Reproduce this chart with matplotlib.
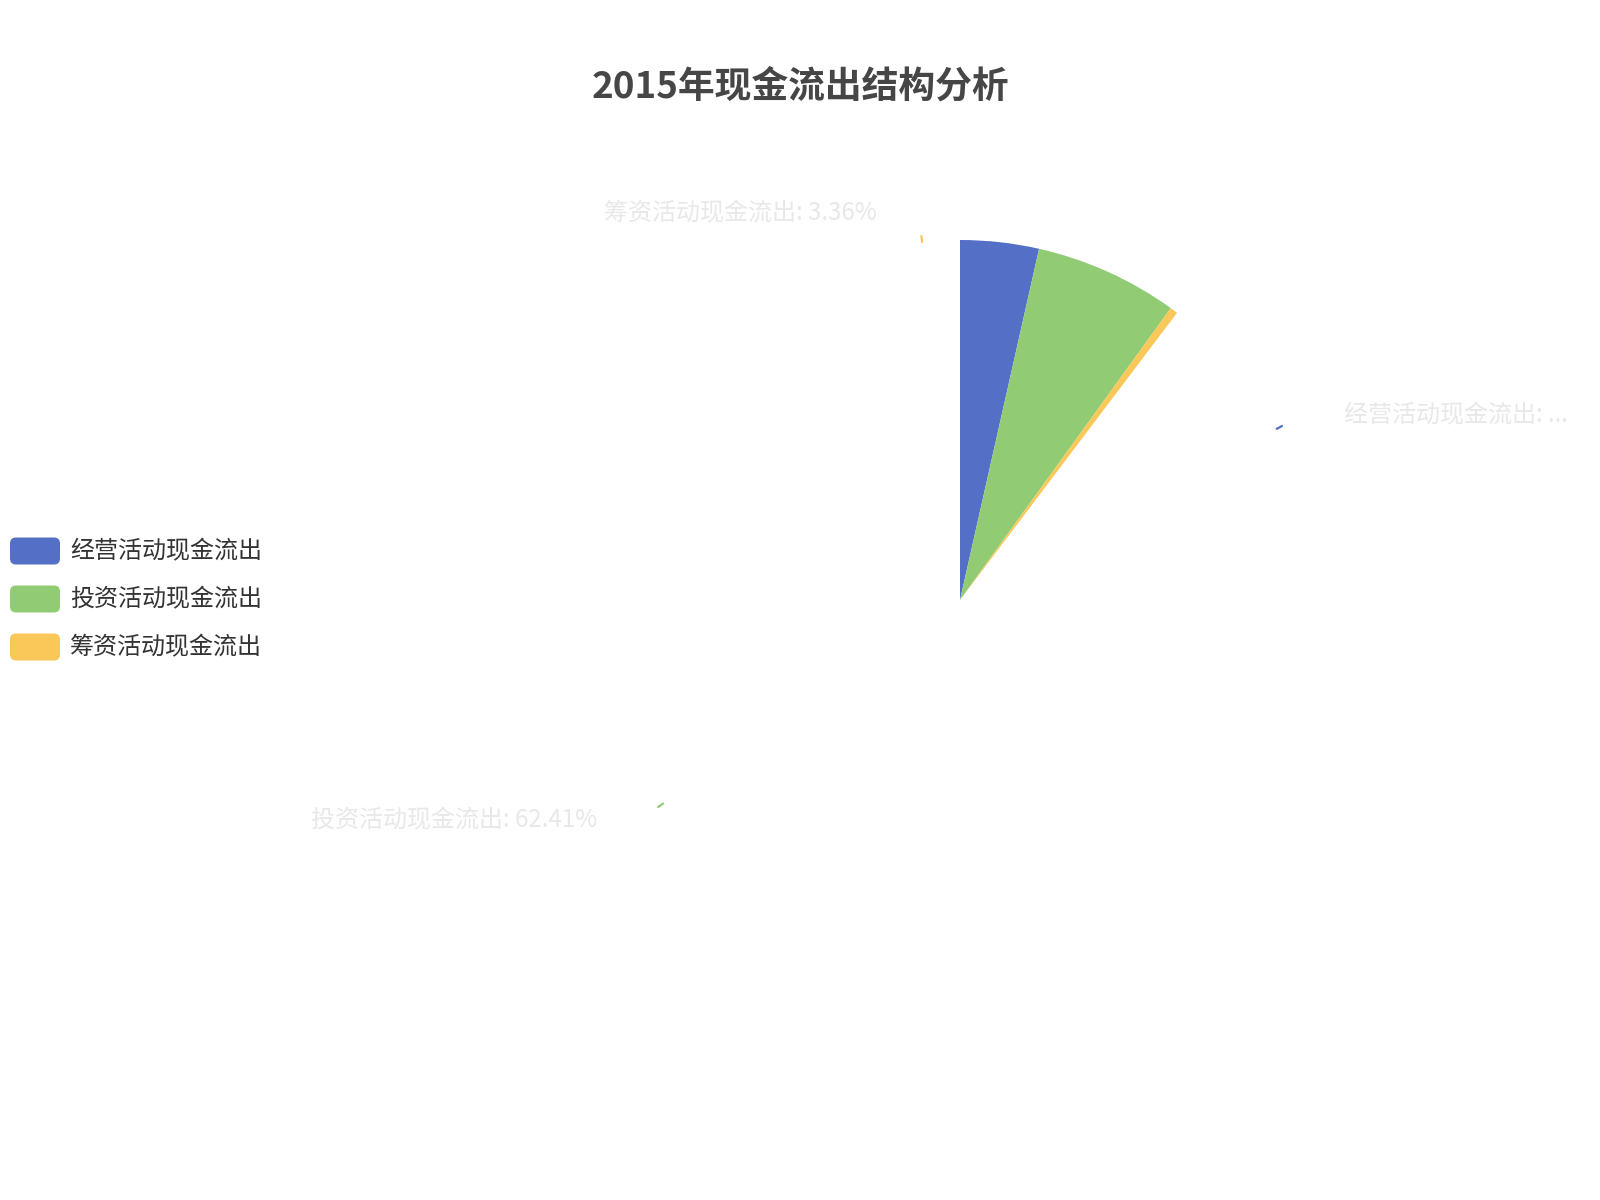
import numpy as np
import matplotlib
matplotlib.use('Agg')
import matplotlib.pyplot as plt
from matplotlib.patches import FancyBboxPatch

plt.rcParams['font.family'] = ['Noto Sans CJK SC', 'DejaVu Sans']

title = '2015年现金流出结构分析'
categories = ['经营活动现金流出', '投资活动现金流出', '筹资活动现金流出']
shares = [34.23, 62.41, 3.36]
label_texts = ['经营活动现金流出: ...', '投资活动现金流出: 62.41%', '筹资活动现金流出: 3.36%']
colors = ['#5470c6', '#91cc75', '#fac858']
drawn = 0.103  # the pie was caught mid-animation, only ~10% of the sweep is drawn

W, H = 1600, 1200
fig = plt.figure(figsize=(16, 12), dpi=100)
ax = fig.add_axes([0, 0, 1, 1])

cx, cy, r = 960, 600, 360
total = sum(shares)
ax.pie([s / total * drawn for s in shares], colors=colors, startangle=90,
       counterclock=False, normalize=False, center=(cx, cy), radius=r,
       frame=True, wedgeprops=dict(linewidth=0))
ax.set_xlim(0, W)
ax.set_ylim(0, H)
ax.axis('off')

# labels sit where the finished pie would put them
cum = 0
for share, text, col in zip(shares, label_texts, colors):
    mid = np.radians(90 - (cum + share / 2) / total * 360)
    cum += share
    ux, uy = np.cos(mid), np.sin(mid)
    ax.plot([cx + r * ux, cx + (r + 6) * ux], [cy + r * uy, cy + (r + 6) * uy],
            color=col, lw=1.6, solid_capstyle='round')
    ex, ey = cx + (r + 29) * ux, cy + (r + 29) * uy
    side = 1 if ux >= 0 else -1
    ax.text(ex + side * 42, ey, text, ha='left' if side > 0 else 'right',
            va='center', fontsize=17.3, color='#e8e8e8')

ax.text(800, H - 87, title, ha='center', va='center', fontsize=26.5,
        fontweight='bold', color='#464646')

# legend
for i, (name, col) in enumerate(zip(categories, colors)):
    yc = H - (551 + 48 * i)
    ax.add_patch(FancyBboxPatch((16, yc - 7.5), 38, 15, boxstyle='round,pad=6',
                                fc=col, ec='none'))
    ax.text(70, yc, name, va='center', fontsize=17.3, color='#333333')

fig.savefig('out.png', dpi=100, facecolor='white')
